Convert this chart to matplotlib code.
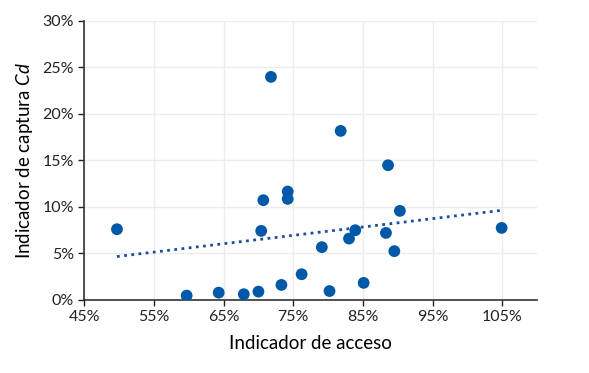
import numpy as np
import matplotlib
matplotlib.use('Agg')
import matplotlib.pyplot as plt
from matplotlib.ticker import FuncFormatter

plt.rcParams['font.family'] = ['Lato', 'DejaVu Sans']
plt.rcParams['mathtext.fontset'] = 'custom'
plt.rcParams['mathtext.it'] = 'Lato:italic'
plt.rcParams['mathtext.rm'] = 'Lato'

# Indicador de acceso (%), Indicador de captura Cd (%)
acceso = [49.7, 59.7, 64.3, 67.9, 70.0, 70.4, 70.7, 71.8, 73.3, 74.2, 74.2, 76.2,
          79.1, 80.2, 81.8, 83.0, 83.9, 85.1, 88.3, 88.6, 89.5, 90.3, 104.9]
captura = [7.6, 0.46, 0.78, 0.61, 0.89, 7.42, 10.72, 23.98, 1.61, 10.86, 11.65, 2.76,
           5.67, 0.95, 18.17, 6.59, 7.49, 1.83, 7.2, 14.48, 5.24, 9.57, 7.74]
xticks = [45, 55, 65, 75, 85, 95, 105]
yticks = [0, 5, 10, 15, 20, 25, 30]

blue = '#0058a8'

fig = plt.figure(figsize=(5.89, 3.73), dpi=100)
ax = fig.add_axes([0.143, 0.196, 0.769, 0.748])

x = np.array(acceso)
y = np.array(captura)
ax.scatter(x, y, s=72, color=blue, edgecolor='none', zorder=3)

# linea de tendencia
b, a = np.polyfit(x, y, 1)
_x = np.array([x.min(), x.max()])
ax.plot(_x, a + b * _x, color='#1b4f9c', linestyle=(0, (1, 1.6)), lw=2, zorder=2)

ax.set_xlim(45, 110)
ax.set_ylim(0, 30)
ax.set_xticks(xticks)
ax.set_yticks(yticks)
pct = FuncFormatter(lambda v, p: '{0:.0f}%'.format(v))
ax.xaxis.set_major_formatter(pct)
ax.yaxis.set_major_formatter(pct)

ax.grid(which='major', color='#ececec', lw=1)
ax.set_axisbelow(True)
for s in ['top', 'right']:
    ax.spines[s].set_visible(False)
for s in ['left', 'bottom']:
    ax.spines[s].set_color('#333333')
    ax.spines[s].set_linewidth(1.2)
ax.tick_params(axis='both', labelsize=11.5, colors='#222222', length=4, width=1)

ax.set_xlabel('Indicador de acceso', fontsize=13.5, labelpad=8)
ax.set_ylabel('Indicador de captura $Cd$', fontsize=13.5, labelpad=5)

plt.savefig('out.png', dpi=100)
plt.close()
